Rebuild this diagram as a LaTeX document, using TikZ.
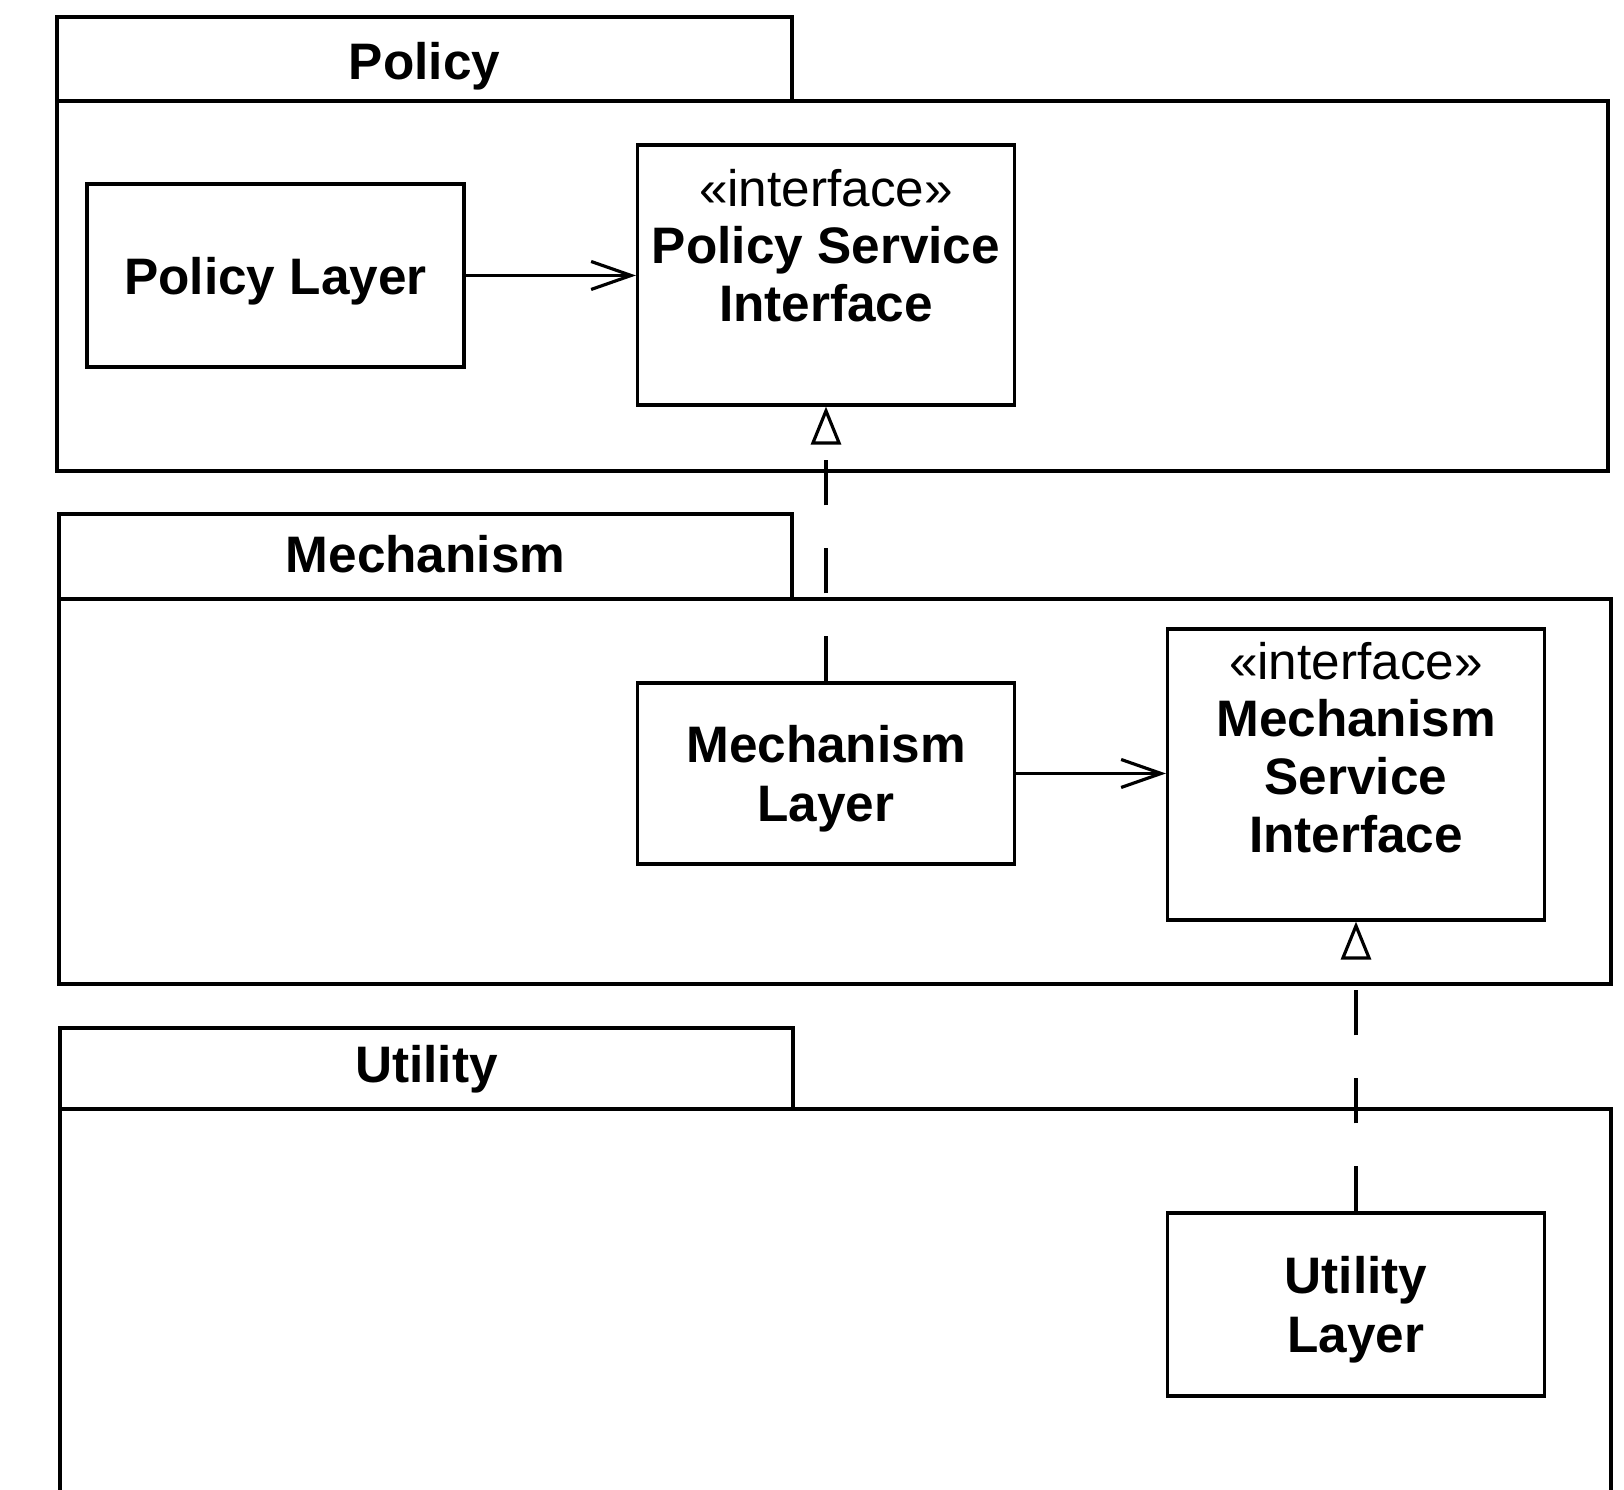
\documentclass[tikz,border=0pt]{standalone}
\usepackage{fontspec}
\setmainfont{Liberation Sans}
\usetikzlibrary{arrows.meta, positioning}
\newcommand{\umlfont}{\fontsize{14.6}{16.4}\selectfont}
\tikzset{>=stealth}
\tikzset{
  pkg/.style={line width=0.9pt},
  pkgname/.style={anchor=base, inner sep=0pt, font=\umlfont\bfseries},
  classbox/.style={draw, line width=0.9pt, minimum width=3.77cm, inner sep=0pt, text depth=0pt, align=center, font=\fontsize{14.6}{16.8}\selectfont\bfseries},
  stereo/.style={align=center, inner sep=0pt, font=\umlfont},
  assoc/.style={line width=0.9pt, -{Straight Barb[length=4mm, width=2.8mm]}},
  realize/.style={line width=0.9pt, dash pattern=on 0.45cm off 0.43cm, -{Triangle[open, length=3.8mm, width=3mm]}}
}

\begin{document}
\begin{tikzpicture}[font=\umlfont]
    \useasboundingbox (0,0) rectangle (16.24,14.90);
    \draw [pkg] (0.57,13.89) rectangle (7.92,14.73);
    \draw [pkg] (0.57,10.19) rectangle (16.08,13.89);
    \node [pkgname] (policytab) at (4.245,14.10) {Policy};
    \draw [pkg] (0.59,8.91) rectangle (7.92,9.76);
    \draw [pkg] (0.59,5.06) rectangle (16.11,8.91);
    \node [pkgname] (mechtab) at (4.255,9.17) {Mechanism};
    \draw [pkg] (0.60,3.81) rectangle (7.93,4.62);
    \draw [pkg] (0.60,0) |- (16.11,3.81) -- (16.11,0);
    \node [pkgname] (utiltab) at (4.265,4.07) {Utility};

    \node [classbox, minimum height=1.83cm] (policylayer) at (2.755,12.145) {Policy Layer};
    \node [classbox, minimum height=2.60cm] (policysi) at (8.26,12.15) {};
    \node [stereo, below=0.25cm of policysi.north] (policysitext) {«interface»\\\textbf{Policy Service}\\\textbf{Interface}};
    \node [classbox, minimum height=1.81cm] (mechlayer) at (8.26,7.165) {Mechanism\\Layer};
    \node [classbox, minimum height=2.91cm] (mechsi) at (13.56,7.155) {};
    \node [stereo, below=0.14cm of mechsi.north] (mechsitext) {«interface»\\\textbf{Mechanism}\\\textbf{Service}\\\textbf{Interface}};
    \node [classbox, minimum height=1.83cm] (utillayer) at (13.56,1.855) {Utility\\Layer};

    \draw [assoc] (policylayer.east) -- (policylayer.east -| policysi.west);
    \draw [assoc] (mechlayer.east) -- (mechlayer.east -| mechsi.west);
    \draw [realize] (mechlayer.north) -- (policysi.south);
    \draw [realize] (utillayer.north) -- (mechsi.south);
\end{tikzpicture}
\end{document}
